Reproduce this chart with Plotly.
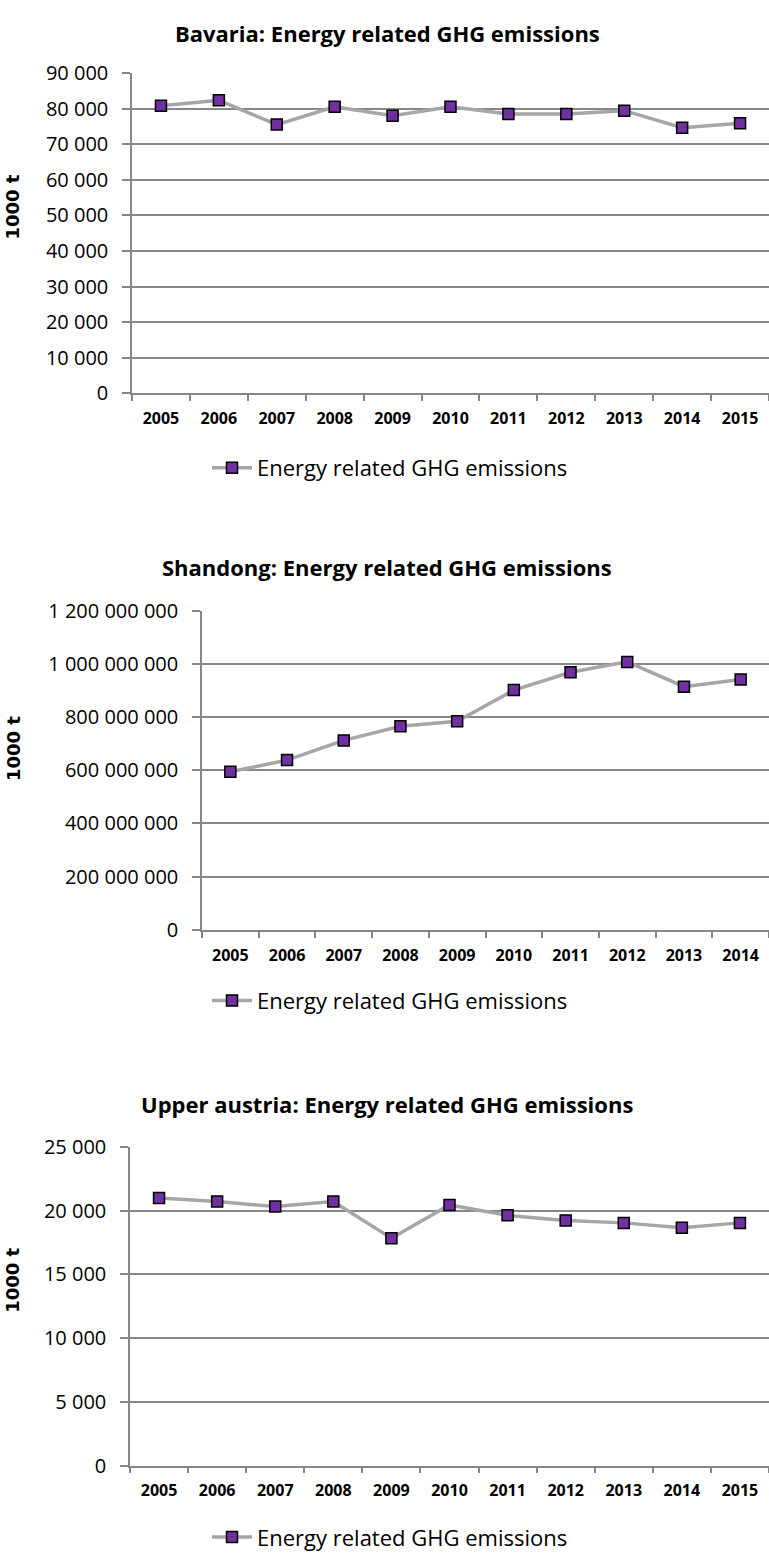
import plotly.graph_objects as go

W, H = 769, 1564

# ---------------- data ----------------
bavaria_years = ["2005", "2006", "2007", "2008", "2009", "2010", "2011", "2012", "2013", "2014", "2015"]
bavaria_values = [80800, 82300, 75500, 80500, 78000, 80500, 78500, 78500, 79400, 74600, 75900]

shandong_years = ["2005", "2006", "2007", "2008", "2009", "2010", "2011", "2012", "2013", "2014"]
shandong_values = [594e6, 638e6, 712e6, 765e6, 784e6, 901e6, 968e6, 1007e6, 914e6, 941e6]

upper_austria_years = ["2005", "2006", "2007", "2008", "2009", "2010", "2011", "2012", "2013", "2014", "2015"]
upper_austria_values = [21000, 20720, 20330, 20720, 17840, 20460, 19640, 19230, 19050, 18660, 19050]

titles = [
    "Bavaria: Energy related GHG emissions",
    "Shandong: Energy related GHG emissions",
    "Upper austria: Energy related GHG emissions",
]
series_name = "Energy related GHG emissions"
y_title = "1000 t"
y_ranges = [(0, 90000), (0, 1.2e9), (0, 25000)]
y_dticks = [10000, 200e6, 5000]

# ---------------- layout (pixels) ----------------
panels = [
    dict(left=132, top=60, bottom=386, title_y=19, ytitle_y=197, legend_y=462),
    dict(left=202, top=607, bottom=932, title_y=563, ytitle_y=748, legend_y=1004),
    dict(left=130, top=1153, bottom=1477, title_y=1109, ytitle_y=1289, legend_y=1550),
]

GRID = "#878787"
LINE = "#A6A6A6"
PURPLE = "#7030A0"
TICK_FONT = dict(family="Open Sans", size=20, color="#000000")
XTICK_FONT = dict(family="Open Sans", size=16, color="#000000", weight="bold")

data_sets = [
    (bavaria_years, bavaria_values),
    (shandong_years, shandong_values),
    (upper_austria_years, upper_austria_values),
]

fig = go.Figure()
annotations = []
layout_extra = {}

for i, ((years, values), p) in enumerate(zip(data_sets, panels), start=1):
    sfx = "" if i == 1 else str(i)
    legend_id = "legend" if i == 1 else f"legend{i}"
    fig.add_trace(go.Scatter(
        x=years, y=values, mode="lines+markers", name=series_name,
        line=dict(color=LINE, width=3.5),
        marker=dict(symbol="square", size=11, color=PURPLE,
                    line=dict(color="#000000", width=1.5)),
        xaxis=f"x{sfx}", yaxis=f"y{sfx}", legend=legend_id,
    ))
    layout_extra[f"xaxis{sfx}"] = dict(
        domain=[p["left"] / W, 1.0],
        anchor=f"y{sfx}",
        type="category",
        range=[-0.5, len(years) - 0.5],
        showgrid=False,
        showline=True, linecolor=GRID, linewidth=1.5,
        ticks="outside", tickson="boundaries", ticklen=6, tickcolor=GRID, tickwidth=1.5,
        tickfont=XTICK_FONT,
        ticklabelstandoff=10,
        zeroline=False, fixedrange=True,
    )
    layout_extra[f"yaxis{sfx}"] = dict(
        domain=[1 - p["bottom"] / H, 1 - p["top"] / H],
        anchor=f"x{sfx}",
        range=list(y_ranges[i - 1]),
        dtick=y_dticks[i - 1], tick0=0,
        tickformat=",d",
        showgrid=True, gridcolor=GRID, gridwidth=1.5,
        showline=True, linecolor=GRID, linewidth=1.5,
        ticks="outside", ticklen=8, tickcolor=GRID, tickwidth=1.5,
        tickfont=TICK_FONT,
        ticklabelstandoff=10,
        zeroline=False, fixedrange=True,
    )
    layout_extra[legend_id] = dict(
        x=207 / W, y=1 - p["legend_y"] / H, xanchor="left", yanchor="middle",
        orientation="h", bgcolor="rgba(0,0,0,0)",
        font=dict(family="Open Sans", size=22, color="#000000"),
        itemwidth=40,
    )
    annotations.append(dict(
        text=f"<b>{titles[i - 1]}</b>", x=387 / W, y=1 - p["title_y"] / H,
        xref="paper", yref="paper", xanchor="center", yanchor="middle",
        showarrow=False, font=dict(family="Open Sans", size=22, color="#000000"),
    ))
    annotations.append(dict(
        text=f"<b>{y_title}</b>", x=13 / W, y=1 - p["ytitle_y"] / H,
        xref="paper", yref="paper", xanchor="center", yanchor="middle",
        textangle=-90, showarrow=False,
        font=dict(family="DejaVu Sans", size=18, color="#000000"),
    ))

fig.update_layout(
    width=W, height=H,
    margin=dict(l=0, r=0, t=0, b=0),
    paper_bgcolor="white", plot_bgcolor="white",
    separators=". ",
    showlegend=True,
    annotations=annotations,
    **layout_extra,
)

fig.write_html("out.html", post_script="document.body.style.margin='0';",
               config={"displayModeBar": False})
